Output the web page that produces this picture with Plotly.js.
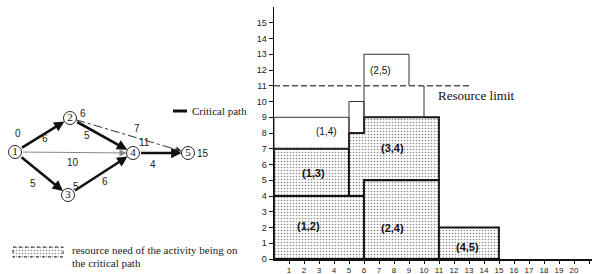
<!DOCTYPE html>
<html>
<head>
<meta charset="utf-8">
<script src="https://cdn.plot.ly/plotly-3.0.1.min.js"></script>
<style>html,body{margin:0;padding:0;background:#fff}#chart{width:597px;height:274px}</style>
</head>
<body>
<div id="chart"></div>
<script>
// ---------- DATA ----------
// Network: activities (from node -> to node), durations, critical flag
const edgeFrom = [1, 1, 1, 2, 2, 3, 4];
const edgeTo = [2, 3, 4, 4, 5, 4, 5];
const edgeDuration = [6, 5, 10, 5, 7, 6, 4];
const edgeCritical = [1, 1, 0, 1, 0, 1, 1];
const nodeIds = [1, 2, 3, 4, 5];
const eventTimes = [0, 6, 5, 11, 15];

// Resource profile: activity pieces (time start, time end, resource base, resource top)
const pieceActivity = ['(1,2)', '(1,3)', '(3,4)', '(3,4)', '(2,4)', '(4,5)', '(1,4)', '(1,4)', '(1,4)', '(2,5)'];
const pieceStart = [0, 0, 5, 6, 6, 11, 0, 5, 6, 6];
const pieceEnd = [6, 5, 6, 11, 11, 15, 5, 6, 10, 9];
const pieceBase = [0, 4, 4, 5, 0, 0, 7, 8, 9, 11];
const pieceTop = [4, 7, 8, 9, 5, 2, 9, 10, 11, 13];
const criticalActivities = ['(1,2)', '(1,3)', '(3,4)', '(2,4)', '(4,5)'];
const resourceLimit = 11;
const resourceLimitEnd = 13;

const xTickVals = [1,2,3,4,5,6,7,8,9,10,11,12,13,14,15,16,17,18,19,20,21];
const xTickText = ['1','2','3','4','5','6','7','8','9','10','11','12','13','14','15','16','17','18','19','20',''];
const yTickVals = [0,1,2,3,4,5,6,7,8,9,10,11,12,13,14,15];

// ---------- LAYOUT POSITIONS (pixels / label placement) ----------
const nodePx = {1: [15, 152], 2: [70, 118], 3: [68, 195], 4: [133, 153], 5: [188, 153]};
const edgeLabelPx = {'1-2': [45, 138], '1-3': [33, 183], '1-4': [73, 162], '2-4': [87, 135], '2-5': [137, 128], '3-4': [105, 181], '4-5': [153, 164]};
const eventLabelPx = {1: [18, 133], 2: [83, 113], 3: [76, 186], 4: [144, 142], 5: [203, 153]};
const actLabelPos = {'(2,5)': [7.13, 12.0], '(1,4)': [3.53, 8.1], '(3,4)': [7.93, 7.07], '(1,3)': [2.6, 5.49], '(1,2)': [2.33, 2.08], '(2,4)': [7.93, 1.96], '(4,5)': [12.87, 0.76]};
const R = 6.5;

const serif = 'Liberation Serif, Times New Roman, serif';
const sans = 'Liberation Sans, Arial, sans-serif';
const pattern = {shape: '.', bgcolor: 'white', fgcolor: '#8a8a8a', size: 3, solidity: 0.22};

const traces = [];
const annotations = [];

// ---------- Network diagram ----------
edgeFrom.forEach((f, i) => {
  const t = edgeTo[i];
  const [x1, y1] = nodePx[f], [x2, y2] = nodePx[t];
  const crit = edgeCritical[i] === 1;
  const dx = x2 - x1, dy = y2 - y1, L = Math.hypot(dx, dy);
  const ux = dx / L, uy = dy / L;
  if (crit || (f === 1 && t === 4)) {
    annotations.push({
      xref: 'x2', yref: 'y2', axref: 'x2', ayref: 'y2',
      x: x2, y: y2, ax: x1, ay: y1, text: '', showarrow: true,
      arrowhead: 2, arrowsize: crit ? 0.8 : 1.4, arrowwidth: crit ? 2.6 : 1,
      arrowcolor: crit ? '#111' : '#888', standoff: R, startstandoff: R
    });
  } else {
    // dash-dot non-critical edge
    traces.push({
      type: 'scatter', mode: 'lines', xaxis: 'x2', yaxis: 'y2', hoverinfo: 'skip',
      x: [x1 + ux * R, x2 - ux * (R + 4)], y: [y1 + uy * R, y2 - uy * (R + 4)],
      line: {color: '#333', width: 1, dash: 'dashdot'}
    });
    annotations.push({
      xref: 'x2', yref: 'y2', axref: 'x2', ayref: 'y2',
      x: x2, y: y2, ax: x2 - ux * (R + 8), ay: y2 - uy * (R + 8), text: '', showarrow: true,
      arrowhead: 2, arrowsize: 1.2, arrowwidth: 1, arrowcolor: '#333', standoff: R
    });
  }
  const lp = edgeLabelPx[f + '-' + t];
  annotations.push({xref: 'x2', yref: 'y2', x: lp[0], y: lp[1], text: String(edgeDuration[i]), showarrow: false,
    font: {family: sans, size: 10, color: '#222'}});
});

traces.push({
  type: 'scatter', mode: 'markers+text', xaxis: 'x2', yaxis: 'y2', hoverinfo: 'skip',
  x: nodeIds.map(n => nodePx[n][0]), y: nodeIds.map(n => nodePx[n][1]),
  text: nodeIds.map(String), textposition: 'middle center',
  textfont: {family: serif, size: 11, color: '#111'},
  marker: {size: 2 * R, color: 'white', line: {color: '#222', width: 1}}
});
nodeIds.forEach((n, i) => {
  const p = eventLabelPx[n];
  annotations.push({xref: 'x2', yref: 'y2', x: p[0], y: p[1], text: String(eventTimes[i]), showarrow: false,
    font: {family: sans, size: 10, color: '#222'}});
});

// Critical path legend
traces.push({type: 'scatter', mode: 'lines', xaxis: 'x2', yaxis: 'y2', hoverinfo: 'skip',
  x: [173, 187], y: [111, 111], line: {color: '#111', width: 3}});
annotations.push({xref: 'x2', yref: 'y2', x: 190, y: 111, xanchor: 'left', text: 'Critical path', showarrow: false,
  font: {family: serif, size: 11, color: '#222'}});

// Resource legend box
traces.push({type: 'scatter', mode: 'lines', xaxis: 'x2', yaxis: 'y2', hoverinfo: 'skip', fill: 'toself',
  x: [13, 63, 63, 13, 13], y: [247, 247, 257, 257, 247], fillpattern: pattern,
  line: {color: '#222', width: 1, dash: 'dot'}});
annotations.push({xref: 'x2', yref: 'y2', x: 70, y: 250, xanchor: 'left', text: 'resource need of the activity being on', showarrow: false,
  font: {family: serif, size: 11, color: '#222'}});
annotations.push({xref: 'x2', yref: 'y2', x: 70, y: 263, xanchor: 'left', text: 'the critical path', showarrow: false,
  font: {family: serif, size: 11, color: '#222'}});

// ---------- Resource chart ----------
const acts = [...new Set(pieceActivity)];
acts.forEach(a => {
  const idx = pieceActivity.map((p, i) => p === a ? i : -1).filter(i => i >= 0).sort((i, j) => pieceStart[i] - pieceStart[j]);
  if (criticalActivities.includes(a)) {
    const xs = [], ys = [];
    idx.forEach(i => { xs.push(pieceStart[i], pieceEnd[i]); ys.push(pieceBase[i], pieceBase[i]); });
    idx.slice().reverse().forEach(i => { xs.push(pieceEnd[i], pieceStart[i]); ys.push(pieceTop[i], pieceTop[i]); });
    xs.push(xs[0]); ys.push(ys[0]);
    traces.push({type: 'scatter', mode: 'lines', xaxis: 'x', yaxis: 'y', hoverinfo: 'skip', fill: 'toself',
      x: xs, y: ys, fillpattern: pattern, line: {color: '#111', width: 1.8}});
  } else {
    const xs = [], ys = [];
    idx.forEach(i => {
      const x0 = pieceStart[i], x1 = pieceEnd[i], b = pieceBase[i], t = pieceTop[i];
      const segs = [[x0, b, x0, t], [x1, b, x1, t]];
      if (t !== resourceLimit) segs.push([x0, t, x1, t]);
      if (b !== resourceLimit) segs.push([x0, b, x1, b]);
      segs.forEach(s => { xs.push(s[0], s[2], null); ys.push(s[1], s[3], null); });
    });
    traces.push({type: 'scatter', mode: 'lines', xaxis: 'x', yaxis: 'y', hoverinfo: 'skip',
      x: xs, y: ys, line: {color: '#333', width: 1}});
  }
  const lp = actLabelPos[a];
  const crit = criticalActivities.includes(a);
  annotations.push({xref: 'x', yref: 'y', x: lp[0], y: lp[1], text: a, showarrow: false,
    font: {family: sans, size: crit ? 11 : 10, color: '#111', weight: crit ? 'bold' : 'normal'}});
});

// Resource limit
traces.push({type: 'scatter', mode: 'lines', xaxis: 'x', yaxis: 'y', hoverinfo: 'skip',
  x: [0, resourceLimitEnd], y: [resourceLimit, resourceLimit], line: {color: '#555', width: 1.5, dash: '6px,3px'}});
annotations.push({xref: 'x', yref: 'y', x: 10.8, y: 10.4, xanchor: 'left', text: 'Resource limit', showarrow: false,
  font: {family: serif, size: 13, color: '#111'}});

const layout = {
  width: 597, height: 274,
  margin: {l: 0, r: 0, t: 0, b: 0},
  paper_bgcolor: 'white', plot_bgcolor: 'rgba(0,0,0,0)',
  showlegend: false,
  xaxis: {domain: [274 / 597, 592 / 597], range: [0, 21.2], anchor: 'y', tickvals: xTickVals, ticktext: xTickText,
    ticks: 'outside', ticklen: 3, tickwidth: 1, tickcolor: '#111', showline: true, linecolor: '#111', linewidth: 1.5,
    showgrid: false, zeroline: false, tickfont: {family: sans, size: 8, color: '#222'}, fixedrange: true},
  yaxis: {domain: [15 / 274, 267 / 274], range: [0, 16], anchor: 'x', tickvals: yTickVals,
    ticks: 'outside', ticklen: 4, tickwidth: 1, tickcolor: '#111', showline: true, linecolor: '#111', linewidth: 1.5,
    showgrid: false, zeroline: false, tickfont: {family: sans, size: 9, color: '#222'}, fixedrange: true},
  xaxis2: {domain: [0, 1], range: [0, 597], anchor: 'y2', visible: false, fixedrange: true},
  yaxis2: {domain: [0, 1], range: [274, 0], anchor: 'x2', visible: false, fixedrange: true},
  annotations: annotations
};

Plotly.newPlot('chart', traces, layout, {displayModeBar: false, staticPlot: true});
</script>
</body>
</html>
